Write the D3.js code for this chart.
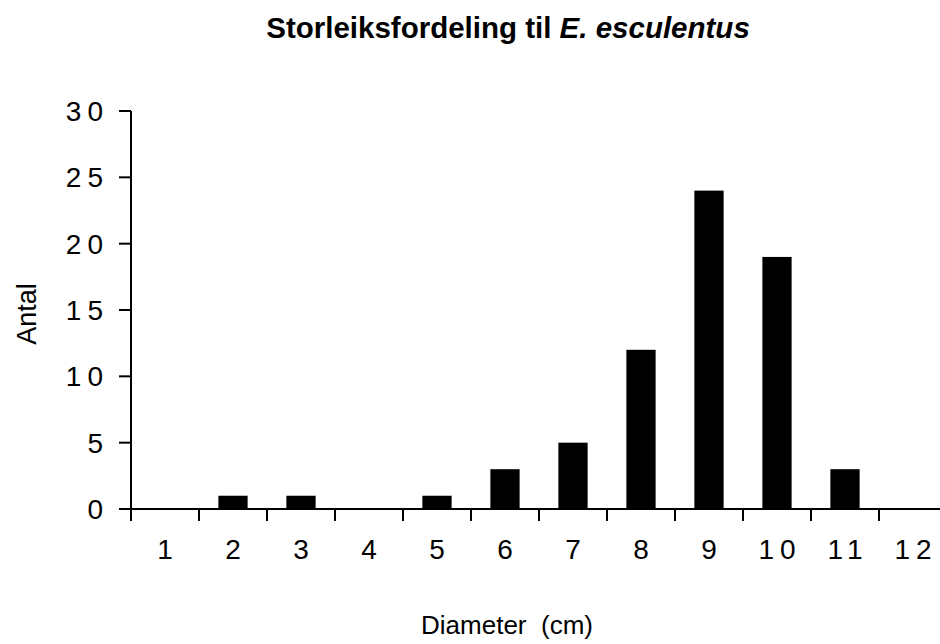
<!DOCTYPE html>
<html>
<head>
<meta charset="utf-8">
<script src="https://cdn.jsdelivr.net/npm/d3@7"></script>
<style>
  body { margin: 0; background: #fff; }
  text { font-family: "Liberation Sans", Arial, sans-serif; fill: #000; }
</style>
</head>
<body>
<div id="chart"></div>
<script>
var diameters = ['1', '2', '3', '4', '5', '6', '7', '8', '9', '10', '11', '12'],
    counts    = [0, 1, 1, 0, 1, 3, 5, 12, 24, 19, 3, 0],
    yTicks    = [0, 5, 10, 15, 20, 25, 30];

var width   = 940,
    height  = 644,
    plotL   = 131,
    plotR   = 947,
    plotT   = 111,
    plotB   = 509;

var svg = d3.select('#chart').append('svg')
    .attr('width', width)
    .attr('height', height);

var x = d3.scaleBand()
    .domain(diameters)
    .range([plotL, plotR])
    .paddingInner(0.57)
    .paddingOuter(0.285);

// band edges, where the x ticks sit
var xb = d3.scaleLinear().domain([0, diameters.length]).range([plotL, plotR]);

var y = d3.scaleLinear().domain([0, 30]).range([plotB, plotT]);

// title
var title = svg.append('text')
    .attr('x', 508)
    .attr('y', 38)
    .attr('text-anchor', 'middle')
    .style('font-size', '29.5px')
    .style('font-weight', 'bold');
title.append('tspan').text('Storleiksfordeling til ');
title.append('tspan').style('font-style', 'italic').text('E. esculentus');

// bars
svg.selectAll('rect.bar')
    .data(counts)
    .enter()
    .append('rect')
    .attr('class', 'bar')
    .attr('x', function(d, i) { return x(diameters[i]); })
    .attr('width', x.bandwidth())
    .attr('y', function(d) { return y(d); })
    .attr('height', function(d) { return y(0) - y(d); })
    .style('fill', '#000');

// y axis
svg.append('line')
    .attr('x1', plotL).attr('x2', plotL)
    .attr('y1', y(30)).attr('y2', plotB + 12)
    .style('stroke', '#000').style('stroke-width', 2);
svg.selectAll('line.ytick')
    .data(yTicks)
    .enter()
    .append('line')
    .attr('class', 'ytick')
    .attr('x1', plotL - 12).attr('x2', plotL)
    .attr('y1', function(d) { return y(d); })
    .attr('y2', function(d) { return y(d); })
    .style('stroke', '#000').style('stroke-width', 2);
svg.selectAll('text.ylab')
    .data(yTicks)
    .enter()
    .append('text')
    .attr('class', 'ylab')
    .attr('x', 109)
    .attr('y', function(d) { return y(d) + 10; })
    .attr('text-anchor', 'end')
    .style('font-size', '28px')
    .style('letter-spacing', '6px')
    .text(function(d) { return d; });

// x axis
svg.append('line')
    .attr('x1', plotL - 12).attr('x2', width)
    .attr('y1', plotB).attr('y2', plotB)
    .style('stroke', '#000').style('stroke-width', 2);
svg.selectAll('line.xtick')
    .data(d3.range(1, diameters.length))
    .enter()
    .append('line')
    .attr('class', 'xtick')
    .attr('x1', function(d) { return xb(d); })
    .attr('x2', function(d) { return xb(d); })
    .attr('y1', plotB).attr('y2', plotB + 12)
    .style('stroke', '#000').style('stroke-width', 2);
svg.selectAll('text.xlab')
    .data(diameters)
    .enter()
    .append('text')
    .attr('class', 'xlab')
    .attr('x', function(d) { return x(d) + x.bandwidth() / 2 + 3; })
    .attr('y', 559)
    .attr('text-anchor', 'middle')
    .style('font-size', '28px')
    .style('letter-spacing', '6px')
    .text(function(d) { return d; });

// axis titles
svg.append('text')
    .attr('x', 507)
    .attr('y', 634)
    .attr('text-anchor', 'middle')
    .style('font-size', '26px')
    .style('white-space', 'pre')
    .text('Diameter  (cm)');
svg.append('text')
    .attr('transform', 'translate(36,314) rotate(-90)')
    .attr('text-anchor', 'middle')
    .style('font-size', '27px')
    .text('Antal');
</script>
</body>
</html>
